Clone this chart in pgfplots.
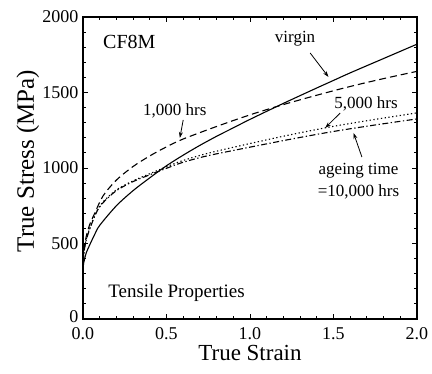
\documentclass[border=0pt]{standalone}
\usepackage{pgfplots}
\pgfplotsset{compat=1.18}
\usepackage{fontspec}
\setmainfont{Liberation Serif}
\usetikzlibrary{arrows.meta}
\begin{document}
\begin{tikzpicture}
\begin{axis}[
  at={(0pt,0pt)}, anchor=south west,
  scale only axis, width=334pt, height=302pt,
  xmin=0, xmax=2, ymin=0, ymax=2000,
  xtick={0,0.5,1,1.5,2}, ytick={0,500,1000,1500,2000},
  xticklabels={0.0,0.5,1.0,1.5,2.0},
  yticklabels={\raisebox{5pt}{0},500,1000,1500,2000},
  minor x tick num=4, minor y tick num=4,
  tick align=inside, major tick length=5pt, minor tick length=3pt,
  tick label style={font=\rmfamily\fontsize{18}{18}\selectfont},
  xticklabel style={yshift=-5pt},
  yticklabel style={xshift=-1pt},
  xlabel={True Strain}, ylabel={True Stress (MPa)},
  xlabel style={font=\fontsize{23}{23}\selectfont, at={(axis description cs:0.5,-0.113)}, anchor=center},
  ylabel style={font=\fontsize{25}{25}\selectfont, at={(axis description cs:-0.165,0.523)}, anchor=center},
  axis line style={line width=1.1pt},
  every tick/.style={black, line width=0.8pt},
]
% virgin
\addplot[black, line width=1.1pt, smooth] coordinates {
(0,340) (0.005,375) (0.01,400) (0.02,440) (0.04,490) (0.07,560) (0.1,620) (0.2,750) (0.3,850) (0.4,935) (0.5,1015) (0.6,1085) (0.7,1150) (0.8,1210) (0.9,1266) (1.0,1322) (1.2,1428) (1.4,1530) (1.5,1580) (1.6,1630) (1.8,1725) (2.0,1820)};
% 1000 hrs
\addplot[black, line width=1.1pt, dash pattern=on 7pt off 4pt, smooth] coordinates {
(0,380) (0.005,440) (0.01,490) (0.02,550) (0.04,625) (0.07,700) (0.12,815) (0.2,920) (0.3,1010) (0.4,1080) (0.5,1140) (0.6,1192) (0.8,1275) (1.0,1352) (1.2,1420) (1.4,1482) (1.6,1540) (1.8,1592) (2.0,1640)};
% 5000 hrs
\addplot[black, line width=1.1pt, dash pattern=on 1.3pt off 2.5pt, smooth] coordinates {
(0,380) (0.005,430) (0.01,475) (0.02,530) (0.04,600) (0.08,710) (0.12,775) (0.2,855) (0.3,915) (0.4,962) (0.5,1008) (0.6,1050) (0.75,1098) (1.0,1162) (1.25,1222) (1.5,1276) (1.75,1322) (2.0,1365)};
% 10000 hrs
\addplot[black, line width=1.1pt, dash pattern=on 6pt off 2.5pt on 1.3pt off 2.5pt, smooth] coordinates {
(0,380) (0.005,430) (0.01,472) (0.02,525) (0.04,595) (0.08,705) (0.12,770) (0.2,850) (0.3,910) (0.4,955) (0.5,998) (0.6,1038) (0.75,1082) (1.0,1138) (1.25,1192) (1.5,1242) (1.75,1285) (2.0,1325)};

\node[font=\fontsize{20}{20}\selectfont, anchor=west] at (axis cs:0.10,1834) {CF8M};
\node[font=\fontsize{19}{19}\selectfont] at (axis cs:0.56,172) {Tensile Properties};
\node[font=\fontsize{17}{17}\selectfont] at (axis cs:1.27,1854) {virgin};
\node[font=\fontsize{17}{17}\selectfont] at (axis cs:0.55,1377) {1,000 hrs};
\node[font=\fontsize{17}{17}\selectfont] at (axis cs:1.695,1424) {5,000 hrs};
\node[font=\fontsize{17}{17}\selectfont] at (axis cs:1.65,980) {ageing time};
\node[font=\fontsize{17}{17}\selectfont] at (axis cs:1.65,841) {=10,000 hrs};
\draw[-{Stealth[length=6pt,width=4pt]}, line width=0.8pt] (axis cs:1.36,1762) -- (axis cs:1.47,1603);
\draw[-{Stealth[length=6pt,width=4pt]}, line width=0.8pt] (axis cs:0.60,1318) -- (axis cs:0.58,1199);
\draw[-{Stealth[length=6pt,width=4pt]}, line width=0.8pt] (axis cs:1.54,1364) -- (axis cs:1.45,1265);
\draw[-{Stealth[length=6pt,width=4pt]}, line width=0.8pt] (axis cs:1.67,1073) -- (axis cs:1.62,1232);
\end{axis}
\useasboundingbox (-83pt,-55pt) rectangle (349pt,319pt);
\end{tikzpicture}
\end{document}
